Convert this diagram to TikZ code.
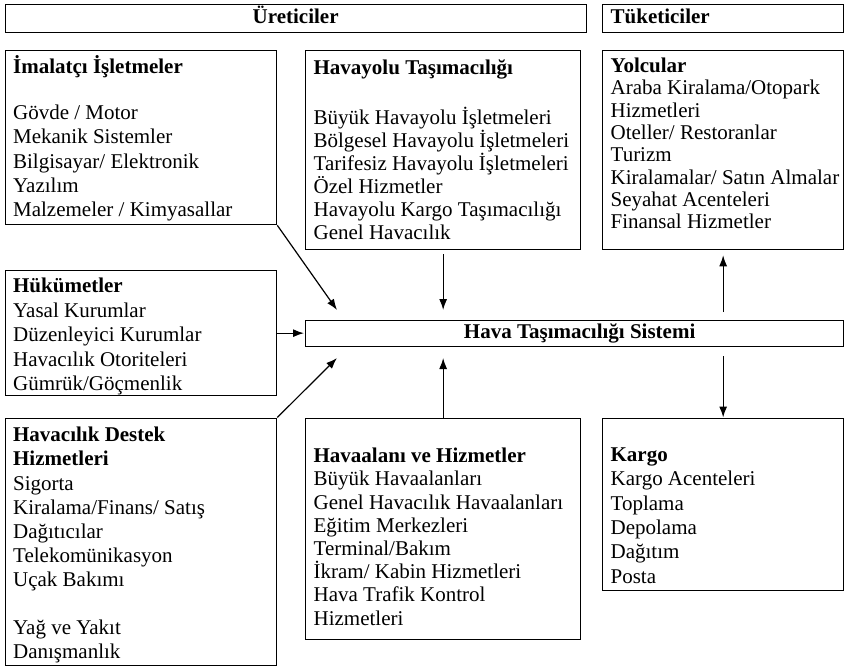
\documentclass[tikz,border=0pt]{standalone}
\usepackage{fontspec}
\setmainfont{Liberation Serif}
\usetikzlibrary{arrows.meta}

% kutu icerigi: genislik, yukseklik, ilk satir taban cizgisi, satir araligi, satirlar
\newcommand{\icerik}[5]{\hspace*{8pt}\parbox[c][#2pt][t]{\dimexpr#1pt-8pt\relax}{\fontsize{21}{#4pt}\selectfont\raggedright\rule{0pt}{#3pt}#5}}

\tikzset{
  kutu/.style={draw, line width=1.3pt, inner sep=0pt, anchor=north west},
  baslik/.style={kutu, minimum height=28pt, text height=14pt, text depth=4pt},
  ok/.style={-{Latex[length=11pt,width=8pt]}, line width=1.2pt},
}

\begin{document}
\begin{tikzpicture}[x=1pt, y=-1pt, font=\fontsize{21}{22.8}\selectfont]
\useasboundingbox (0,0) rectangle (844,667);

% Ust basliklar
\node[baslik, minimum width=581pt] (uretici) at (4.5,3.5) {\textbf{Üreticiler}};
\node[baslik, minimum width=241pt] (tuketici) at (602,3.5)
    {\hspace*{8pt}\makebox[233pt][l]{\textbf{Tüketiciler}}};

% Ureticiler
\node[kutu] (imalat) at (4.5,50) {\icerik{271.5}{174}{23}{24.2}{%
    \textbf{İmalatçı İşletmeler}\\[21.8pt]
    Gövde / Motor\\
    Mekanik Sistemler\\
    Bilgisayar/ Elektronik\\
    Yazılım\\
    Malzemeler / Kimyasallar}};

\node[kutu] (havayolu) at (305,50) {\icerik{275}{199}{24}{23}{%
    \textbf{Havayolu Taşımacılığı}\\[27pt]
    Büyük Havayolu İşletmeleri\\
    Bölgesel Havayolu İşletmeleri\\
    Tarifesiz Havayolu İşletmeleri\\
    Özel Hizmetler\\
    Havayolu Kargo Taşımacılığı\\
    Genel Havacılık}};

\node[kutu] (hukumet) at (4.5,270) {\icerik{271.5}{125}{22}{24.5}{%
    \textbf{Hükümetler}\\
    Yasal Kurumlar\\
    Düzenleyici Kurumlar\\
    Havacılık Otoriteleri\\
    Gümrük/Göçmenlik}};

\node[kutu] (destek) at (4.5,417.5) {\icerik{271.5}{247.5}{23.5}{24.2}{%
    \textbf{Havacılık Destek}\\
    \textbf{Hizmetleri}\\
    Sigorta\\
    Kiralama/Finans/ Satış\\
    Dağıtıcılar\\
    Telekomünikasyon\\
    Uçak Bakımı\\[23.6pt]
    Yağ ve Yakıt\\
    Danışmanlık}};

\node[kutu] (havaalani) at (305,417.5) {\icerik{275}{221.5}{44.5}{23.2}{%
    \textbf{Havaalanı ve Hizmetler}\\
    Büyük Havaalanları\\
    Genel Havacılık Havaalanları\\
    Eğitim Merkezleri\\
    Terminal/Bakım\\
    İkram/ Kabin Hizmetleri\\
    Hava Trafik Kontrol\\
    Hizmetleri}};

% Sistem
\node[kutu, minimum width=538pt, minimum height=26pt, text height=14pt, text depth=4pt]
    (sistem) at (305,320) {\hspace*{10pt}\textbf{Hava Taşımacılığı Sistemi}};

% Tuketiciler
\node[kutu] (yolcu) at (602,50) {\icerik{241}{199}{22}{22.3}{%
    \textbf{Yolcular}\\
    Araba Kiralama/Otopark\\
    Hizmetleri\\
    Oteller/ Restoranlar\\
    Turizm\\
    Kiralamalar/ Satın Almalar\\
    Seyahat Acenteleri\\
    Finansal Hizmetler}};

\node[kutu] (kargo) at (602,417.5) {\icerik{241}{172.5}{43.5}{24.3}{%
    \textbf{Kargo}\\
    Kargo Acenteleri\\
    Toplama\\
    Depolama\\
    Dağıtım\\
    Posta}};

% Oklar
\coordinate (ust) at (337,310);
\coordinate (alt) at (337,358);
\draw[ok] (imalat.south east) -- (ust);
\draw[ok, shorten <=4pt] (havayolu.south) -- (havayolu.south |- ust);
\draw[ok, shorten >=1pt] (hukumet.east) -- (hukumet.east -| sistem.west);
\draw[ok] (destek.north east) -- (alt);
\draw[ok] (havaalani.north) -- (havaalani.north |- alt);
\draw[ok, shorten <=8pt, shorten >=5pt] (yolcu.south |- sistem.north) -- (yolcu.south);
\draw[ok, shorten <=9pt] (sistem.south -| kargo.north) -- (kargo.north);

\end{tikzpicture}
\end{document}
